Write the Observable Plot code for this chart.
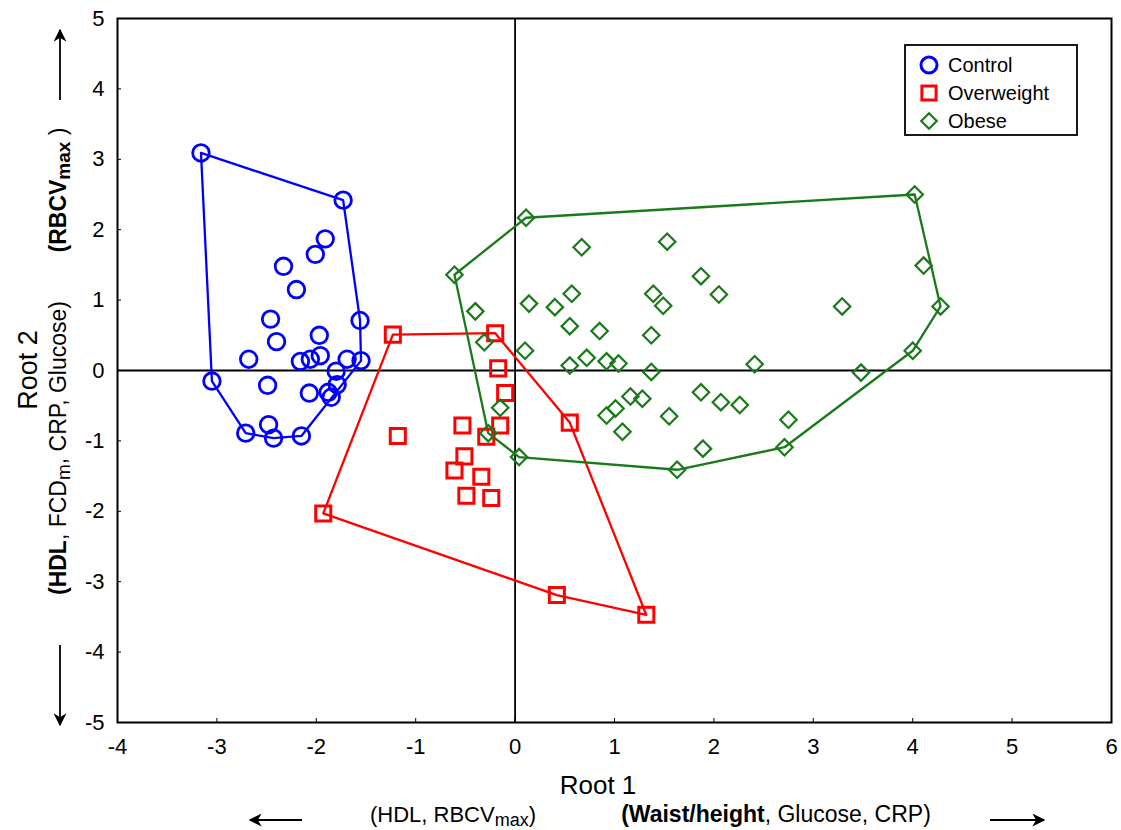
<!DOCTYPE html>
<html><head><meta charset="utf-8">
<script src="https://cdn.jsdelivr.net/npm/d3@7"></script>
<script src="https://cdn.jsdelivr.net/npm/@observablehq/plot@0.6"></script>
<style>
body{margin:0;background:#fff;}
svg{font-family:"Liberation Sans",Arial,sans-serif;}
svg g[aria-label$="tick label"], svg g[aria-label$="tick label"] text{font-size:22px !important;}
</style>
</head><body><div id="chart"></div>
<script>
const groups = ["Control", "Overweight", "Obese"];
const colors = ["#0000ff", "#ff0000", "#1a7a1a"];

const controlX = [-3.16,-1.73,-1.91,-2.01,-2.33,-2.20,-2.46,-2.40,-2.68,-1.56,-1.97,-2.16,-2.06,-1.96,-1.69,-1.55,-3.05,-2.49,-1.80,-1.79,-2.07,-1.88,-1.85,-2.71,-2.48,-2.43,-2.15];
const controlY = [3.09,2.42,1.87,1.65,1.48,1.15,0.73,0.41,0.16,0.71,0.50,0.13,0.16,0.21,0.16,0.14,-0.15,-0.21,-0.01,-0.20,-0.32,-0.31,-0.38,-0.89,-0.77,-0.96,-0.93];

const overweightX = [-1.23,-0.20,-0.17,-0.10,-0.53,-1.18,-0.15,-0.29,-0.51,-0.61,-0.34,-0.49,-0.24,0.55,-1.93,0.42,1.32];
const overweightY = [0.51,0.53,0.03,-0.32,-0.78,-0.93,-0.78,-0.94,-1.22,-1.42,-1.51,-1.78,-1.81,-0.74,-2.03,-3.19,-3.47];

const obeseX = [0.11,-0.61,0.67,-0.40,0.14,0.40,0.57,0.55,0.85,-0.31,0.10,0.55,0.72,0.92,1.04,1.37,1.37,1.39,-0.15,-0.27,0.04,0.92,1.01,1.16,1.28,1.08,4.02,4.11,4.28,4.00,3.48,3.29,1.53,1.87,2.05,1.49,2.41,1.87,2.07,2.26,1.55,2.75,1.89,2.71,1.63];
const obeseY = [2.17,1.36,1.75,0.84,0.95,0.90,1.09,0.63,0.56,0.40,0.28,0.07,0.18,0.13,0.10,-0.02,0.50,1.09,-0.53,-0.89,-1.23,-0.64,-0.54,-0.37,-0.40,-0.87,2.50,1.49,0.91,0.28,-0.03,0.91,1.83,1.34,1.08,0.92,0.09,-0.31,-0.45,-0.49,-0.65,-0.70,-1.11,-1.09,-1.41];

const xTicks = [-4,-3,-2,-1,0,1,2,3,4,5,6];
const yTicks = [-5,-4,-3,-2,-1,0,1,2,3,4,5];

function rows(group, xs, ys) { return xs.map((x, i) => ({group, x, y: ys[i]})); }
function hull(group, xs, ys) {
  const h = d3.polygonHull(xs.map((x, i) => [x, ys[i]]));
  h.push(h[0]);
  return h.map(([x, y]) => ({group, x, y}));
}
const control = rows("Control", controlX, controlY);
const overweight = rows("Overweight", overweightX, overweightY);
const obese = rows("Obese", obeseX, obeseY);
const hulls = [
  ...hull("Control", controlX, controlY),
  ...hull("Overweight", overweightX, overweightY),
  ...hull("Obese", obeseX, obeseY)
];

const plot = Plot.plot({
  width: 1121, height: 830,
  marginLeft: 117, marginRight: 10, marginTop: 18, marginBottom: 108,
  style: {fontSize: "22px", fontFamily: "'Liberation Sans', Arial, sans-serif", background: "#fff"},
  x: {domain: [-4, 6], label: null},
  y: {domain: [-5, 5], label: null},
  color: {domain: groups, range: colors},
  marks: [
    Plot.ruleX([0], {stroke: "#000", strokeWidth: 1.8}),
    Plot.ruleY([0], {stroke: "#000", strokeWidth: 1.8}),
    Plot.line(hulls, {x: "x", y: "y", z: "group", stroke: "group", strokeWidth: 2.3}),
    Plot.dot(control, {x: "x", y: "y", symbol: "circle", r: 8.3, stroke: colors[0], strokeWidth: 2.8, fill: "none"}),
    Plot.dot(overweight, {x: "x", y: "y", symbol: "square", r: 8.5, stroke: colors[1], strokeWidth: 3, fill: "none"}),
    Plot.dot(obese, {x: "x", y: "y", symbol: "diamond2", r: 7.4, stroke: colors[2], strokeWidth: 2.2, fill: "none"}),
    Plot.frame({stroke: "#000", strokeWidth: 2}),
    Plot.axisX({ticks: xTicks, tickSize: -4, tickPadding: 20, fontSize: 22, tickFormat: d => String(d), label: null}),
    Plot.axisY({ticks: yTicks, tickSize: -4, tickPadding: 17, fontSize: 22, tickFormat: d => String(d), label: null})
  ]
});
document.getElementById("chart").appendChild(plot);

const svg = d3.select(plot);
const g = svg.append("g").attr("fill", "#000");

// Legend
const lg = svg.append("g").attr("text-anchor", "start");
lg.append("rect").attr("x", 905).attr("y", 45).attr("width", 172).attr("height", 90)
  .attr("fill", "white").attr("stroke", "#000").attr("stroke-width", 1.8);
const legY = [65, 93, 121];
const sym = [d3.symbolCircle, d3.symbolSquare, d3.symbolDiamond2];
const sz = [Math.PI * 64, Math.PI * 64, Math.PI * 49];
const sw = [3, 3, 2.2];
groups.forEach((name, i) => {
  lg.append("path").attr("d", d3.symbol(sym[i], sz[i])())
    .attr("transform", `translate(929,${legY[i]})`)
    .attr("fill", "none").attr("stroke", colors[i]).attr("stroke-width", sw[i]);
  lg.append("text").attr("x", 948).attr("y", legY[i]).attr("dy", "0.35em")
    .attr("text-anchor", "start").attr("font-size", 20).text(name);
});

// Axis titles
g.append("text").attr("x", 598).attr("y", 794).attr("text-anchor", "middle")
  .attr("font-size", 26).text("Root 1");
const t1 = g.append("text").attr("x", 453).attr("y", 822).attr("text-anchor", "middle").attr("font-size", 22);
t1.append("tspan").text("(HDL, RBCV");
t1.append("tspan").attr("dy", 4).attr("font-size", 18).text("max");
t1.append("tspan").attr("dy", -4).text(")");
const t2 = g.append("text").attr("x", 776).attr("y", 822).attr("text-anchor", "middle").attr("font-size", 23);
t2.append("tspan").attr("font-weight", "bold").text("(Waist/height");
t2.append("tspan").text(", Glucose, CRP)");

const yl = g.append("g");
yl.append("text").attr("transform", "translate(37,370) rotate(-90)")
  .attr("text-anchor", "middle").attr("font-size", 27).text("Root 2");
const t3 = yl.append("text").attr("transform", "translate(66,448) rotate(-90)")
  .attr("text-anchor", "middle").attr("font-size", 23);
t3.append("tspan").attr("font-weight", "bold").text("(HDL");
t3.append("tspan").text(", FCD");
t3.append("tspan").attr("dy", 4).attr("font-size", 19).text("m");
t3.append("tspan").attr("dy", -4).text(", CRP, Glucose)");
const t4 = yl.append("text").attr("transform", "translate(66,190) rotate(-90)")
  .attr("text-anchor", "middle").attr("font-size", 23).attr("font-weight", "bold");
t4.append("tspan").text("(RBCV");
t4.append("tspan").attr("dy", 4).attr("font-size", 19).text("max");
t4.append("tspan").attr("dy", -4).attr("font-weight", "normal").text(" )");

// Arrows
const defs = svg.append("defs");
defs.append("marker").attr("id", "ah").attr("viewBox", "0 0 10 10").attr("refX", 9).attr("refY", 5)
  .attr("markerWidth", 13).attr("markerHeight", 13).attr("markerUnits", "userSpaceOnUse").attr("orient", "auto")
  .append("path").attr("d", "M0,0 L10,5 L0,10 L3,5 Z").attr("fill", "#000");
const arrows = [[60,100,60,30],[60,645,60,725],[302,820,250,820],[990,820,1044,820]];
arrows.forEach(([x1,y1,x2,y2]) => {
  svg.append("line").attr("x1", x1).attr("y1", y1).attr("x2", x2).attr("y2", y2)
    .attr("stroke", "#000").attr("stroke-width", 1.8).attr("marker-end", "url(#ah)");
});
</script>
</body></html>
